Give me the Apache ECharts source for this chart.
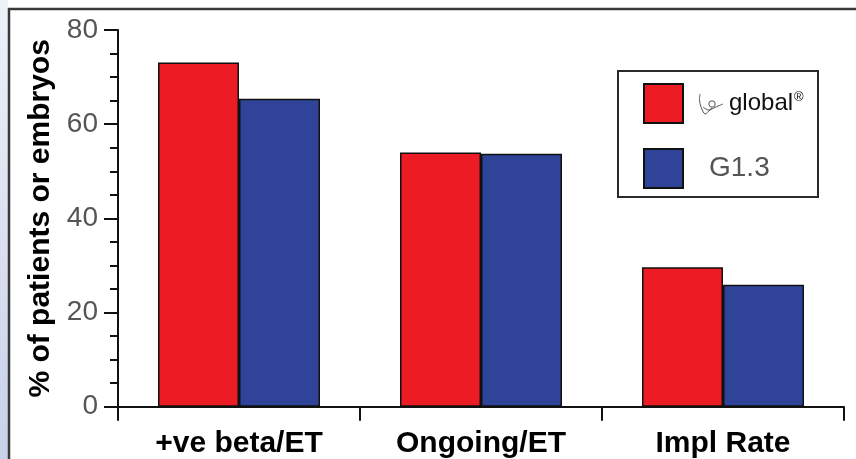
<!DOCTYPE html>
<html>
<head>
<meta charset="utf-8">
<script src="https://cdn.jsdelivr.net/npm/echarts@6/dist/echarts.min.js"></script>
<style>
html,body{margin:0;padding:0;background:#fff;}
#c{width:856px;height:459px;}
</style>
</head>
<body>
<div id="c"></div>
<script>
var categories = ['+ve beta/ET', 'Ongoing/ET', 'Impl Rate'];
var seriesNames = ['global', 'G1.3'];
var globalValues = [73.1, 54.0, 29.6];
var g13Values = [65.4, 53.7, 25.9];
var yTicks = [0, 20, 40, 60, 80];
var yAxisTitle = '% of patients or embryos';

var RED = '#ed1c24', BLUE = '#2f4499';
var FONT = '"Liberation Sans", Arial, Helvetica, sans-serif';

var chart = echarts.init(document.getElementById('c'), null, {renderer: 'canvas'});
chart.setOption({
  animation: false,
  backgroundColor: '#ffffff',
  grid: {left: 118, right: 12, top: 30, bottom: 52.3, containLabel: false},
  xAxis: {
    type: 'category',
    data: categories,
    boundaryGap: true,
    axisLine: {lineStyle: {color: '#111', width: 2}},
    axisTick: {show: true, inside: false, length: 14, lineStyle: {color: '#111', width: 2}},
    axisLabel: {color: '#000', fontFamily: FONT, fontWeight: 'bold', fontSize: 30, margin: 22}
  },
  yAxis: {
    type: 'value',
    min: yTicks[0], max: yTicks[yTicks.length - 1], interval: 20,
    name: yAxisTitle,
    nameLocation: 'middle',
    nameGap: 58,
    nameTextStyle: {color: '#000', fontFamily: FONT, fontWeight: 'bold', fontSize: 30},
    axisLine: {show: true, lineStyle: {color: '#111', width: 2}},
    axisTick: {show: true, inside: false, length: 14, lineStyle: {color: '#111', width: 2}},
    minorTick: {show: true, splitNumber: 4, length: 8, lineStyle: {color: '#111', width: 2}},
    splitLine: {show: false},
    axisLabel: {color: '#555', fontFamily: FONT, fontSize: 28, margin: 20}
  },
  legend: {
    orient: 'vertical',
    left: 643, top: 83,
    icon: 'rect',
    itemWidth: 39, itemHeight: 39, itemGap: 24,
    padding: 0,
    selectedMode: false,
    data: seriesNames,
    formatter: function (n) {
      return n === 'global' ? '{g|global}{r|®}' : '{h|' + n + '}';
    },
    textStyle: {
      rich: {
        g: {fontFamily: FONT, fontSize: 24, color: '#111', padding: [0, 0, 0, 41]},
        r: {fontFamily: FONT, fontSize: 13, color: '#111', verticalAlign: 'top', padding: [0, 0, 12, 1]},
        h: {fontFamily: FONT, fontSize: 28, color: '#555', padding: [0, 0, 0, 21]}
      }
    }
  },
  series: [
    {
      name: seriesNames[0], type: 'bar', data: globalValues,
      barWidth: 81, barGap: '0%',
      itemStyle: {color: RED, borderColor: '#111', borderWidth: 1.5}
    },
    {
      name: seriesNames[1], type: 'bar', data: g13Values,
      barWidth: 81, barGap: '0%',
      itemStyle: {color: BLUE, borderColor: '#111', borderWidth: 1.5}
    }
  ],
  graphic: [
    {type: 'rect', z: -10, silent: true,
     shape: {x: 0, y: 0, width: 8, height: 459},
     style: {fill: {type: 'linear', x: 0, y: 0, x2: 0, y2: 1, colorStops: [
       {offset: 0, color: '#eef1f8'}, {offset: 1, color: '#c9d1ea'}]}}},
    {type: 'polyline', z: 10, silent: true,
     shape: {points: [[9, 460], [9, 9], [857, 9]]},
     style: {stroke: '#3a3a3a', lineWidth: 2.5, fill: null}},
    {type: 'rect', z: 10, silent: true,
     shape: {x: 618, y: 71, width: 200, height: 126},
     style: {fill: null, stroke: '#2a2a2a', lineWidth: 2}},
    {type: 'polyline', z: 10, silent: true,
     shape: {points: [[700, 94], [699.5, 100], [701, 107], [705, 114], [710, 110], [716, 107], [723, 104]], smooth: 0.3},
     style: {stroke: '#555', lineWidth: 1, fill: null}},
    {type: 'circle', z: 10, silent: true,
     shape: {cx: 712, cy: 104, r: 3.2},
     style: {stroke: '#555', lineWidth: 1, fill: null}},
    {type: 'polyline', z: 10, silent: true,
     shape: {points: [[703, 107], [706, 109], [709, 110], [712, 108]], smooth: 0.3},
     style: {stroke: '#555', lineWidth: 1, fill: null}}
  ]
});
</script>
</body>
</html>
